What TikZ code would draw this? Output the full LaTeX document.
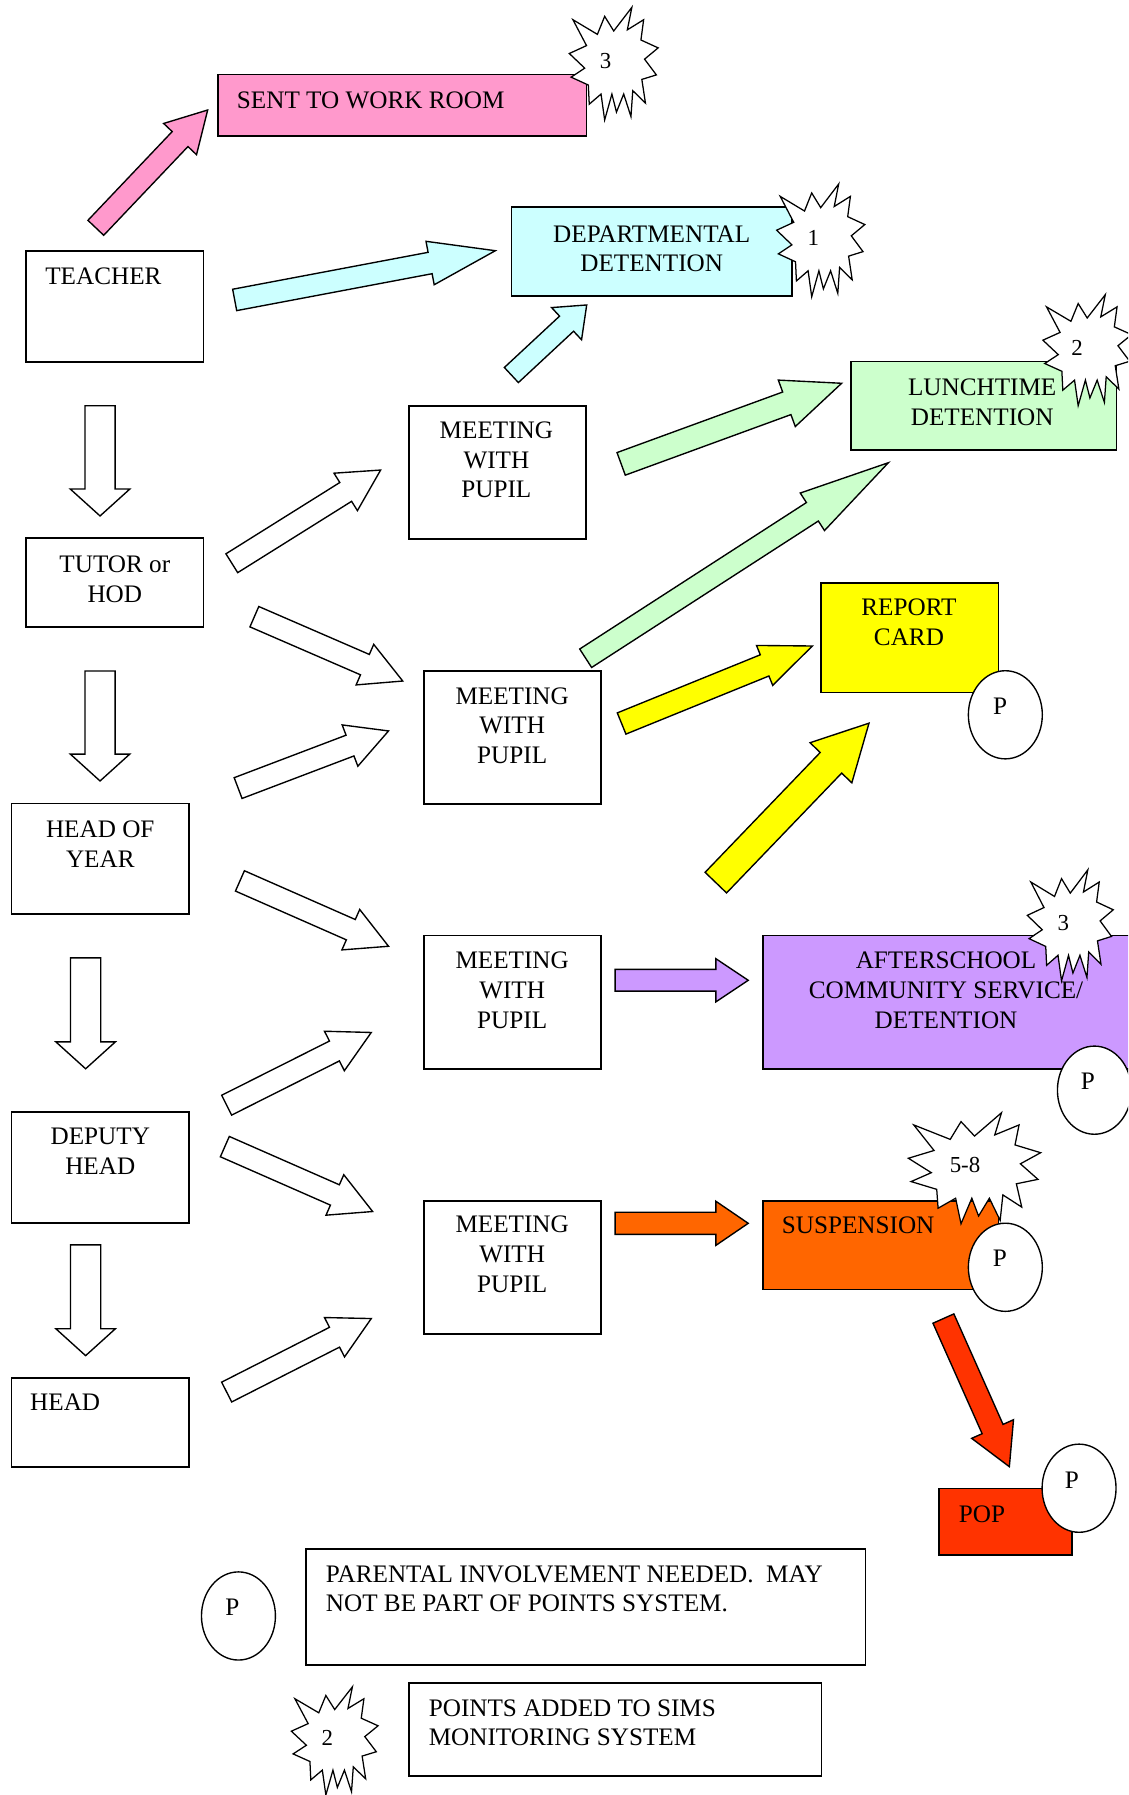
\documentclass[tikz,border=0pt]{standalone}
\usepackage{fontspec}
\setmainfont{Liberation Serif}
\usetikzlibrary{calc,shapes.geometric}
\definecolor{cpink}{HTML}{FF99CC}
\definecolor{ccyan}{HTML}{CCFFFF}
\definecolor{cgreen}{HTML}{CCFFCC}
\definecolor{cyellow}{HTML}{FFFF00}
\definecolor{cpurple}{HTML}{CC99FF}
\definecolor{corange}{HTML}{FF6600}
\definecolor{cred}{HTML}{FF3300}
\tikzset{
  box/.style={draw, line width=1.5pt, rectangle, inner sep=0pt, outer sep=0pt, anchor=north west},
  lbl/.style={inner sep=0pt, outer sep=0pt, font=\fontsize{22}{26}\selectfont},
  slbl/.style={inner sep=0pt, outer sep=0pt, font=\fontsize{20}{24}\selectfont},
  pcirc/.style={draw, fill=white, line width=1.2pt, ellipse, inner sep=0pt, minimum width=64.6pt, minimum height=77pt},
  arrowline/.style={draw, line width=1.2pt, line join=miter},
  burststyle/.style={draw, fill=white, line width=1.1pt, line join=miter},
}
\newcommand\blkarrow[6][white]{%
  \coordinate (bh) at ($(#3)!#6pt!(#2)$);
  \draw[arrowline, fill=#1] ($(#2)!#4pt!90:(#3)$) -- ($(bh)!#4pt!90:(#3)$) -- ($(bh)!#5pt!90:(#3)$) -- (#3) -- ($(bh)!#5pt!-90:(#3)$) -- ($(bh)!#4pt!-90:(#3)$) -- ($(#2)!#4pt!-90:(#3)$) -- cycle;
}
\newcommand\burst[4]{%
  \begin{scope}[shift={(#1,#2)}, x=#3pt, y=-#4pt]
    \draw[burststyle] (0.69,0) -- (0.64,0.2) -- (0.82,0.11) -- (0.79,0.29) -- (0.98,0.36) -- (0.83,0.46) -- (0.96,0.6) -- (0.8,0.64) -- (0.84,0.85) -- (0.7,0.74) -- (0.68,0.97) -- (0.6,0.77) -- (0.52,0.93) -- (0.47,0.77) -- (0.39,1.0) -- (0.35,0.77) -- (0.22,0.86) -- (0.21,0.69) -- (0.02,0.62) -- (0.17,0.54) -- (0,0.41) -- (0.19,0.34) -- (0.04,0.11) -- (0.31,0.24) -- (0.39,0.08) -- (0.49,0.21) -- cycle;
  \end{scope}}
\begin{document}
\begin{tikzpicture}[x=1pt,y=-1pt]
\clip (0,0) rectangle (985.35,1568);
\fill[white] (0,0) rectangle (985.35,1568);
% boxes
\node[box, fill=cpink, minimum width=321.8pt, minimum height=53.5pt] (sent) at (190.4,65.2) {};
\node[box, minimum width=155.2pt, minimum height=96.9pt] (teacher) at (22.6,219.3) {};
\node[box, fill=ccyan, minimum width=245.1pt, minimum height=77.5pt] (dept) at (446.8,180.9) {};
\node[box, fill=cgreen, minimum width=231.9pt, minimum height=77.5pt] (lunch) at (743.4,315.9) {};
\node[box, minimum width=155pt, minimum height=116.2pt] (meet1) at (357,354.4) {};
\node[box, minimum width=155.2pt, minimum height=77.8pt] (tutor) at (22.6,469.7) {};
\node[box, fill=cyellow, minimum width=155.3pt, minimum height=96pt] (report) at (717,509) {};
\node[box, minimum width=154.5pt, minimum height=116.3pt] (meet2) at (370.2,586) {};
\node[box, minimum width=155.3pt, minimum height=96.6pt] (hoy) at (10,702) {};
\node[box, minimum width=154.5pt, minimum height=116.3pt] (meet3) at (370.2,817.3) {};
\node[box, fill=cpurple, minimum width=333.8pt, minimum height=116.3pt] (after) at (666.2,817.3) {};
\node[box, minimum width=155.3pt, minimum height=96.9pt] (deputy) at (10,971.4) {};
\node[box, minimum width=154.5pt, minimum height=116.3pt] (meet4) at (370.2,1048.9) {};
\node[box, fill=corange, minimum width=206.1pt, minimum height=77.4pt] (susp) at (666.2,1048.9) {};
\node[box, minimum width=155.3pt, minimum height=77.5pt] (head) at (10,1203.7) {};
\node[box, fill=cred, minimum width=116.2pt, minimum height=57.8pt] (pop) at (820.1,1300.3) {};
\node[box, minimum width=488.9pt, minimum height=101.3pt] (legp) at (267.1,1353.1) {};
\node[box, minimum width=360.7pt, minimum height=81.2pt] (legs) at (357,1470.2) {};
% arrow end points
\coordinate (pks) at (83.7,199);   \coordinate (pke) at (181.4,96.1);
\coordinate (cbs) at (205,262);    \coordinate (cbe) at (432.7,219);
\coordinate (css) at (446.7,327.6);\coordinate (cse) at (512.5,266.4);
\coordinate (g1s) at (542.6,405.2);\coordinate (g1e) at (735.2,334.8);
\coordinate (g2s) at (511.6,575);  \coordinate (g2e) at (776,404.2);
\coordinate (y1s) at (543,632);    \coordinate (y1e) at (709.6,564.3);
\coordinate (y2s) at (625.3,771);  \coordinate (y2e) at (759.1,631.7);
\coordinate (pus) at (537.3,856.3);\coordinate (pue) at (653.6,856.3);
\coordinate (ors) at (537.3,1068.6);\coordinate (ore) at (653.6,1068.6);
\coordinate (rds) at (824.1,1151.8);\coordinate (rde) at (881.7,1281.2);
\coordinate (d1s) at (87.4,354.4); \coordinate (d1e) at (87.4,450.7);
\coordinate (d2s) at (87.4,586.1); \coordinate (d2e) at (87.4,682.2);
\coordinate (d3s) at (74.8,836.7); \coordinate (d3e) at (74.8,933.6);
\coordinate (d4s) at (74.8,1087.4);\coordinate (d4e) at (74.8,1184.2);
\coordinate (t1s) at (202.5,492);  \coordinate (t1e) at (332.5,410.6);
\coordinate (t2s) at (222.2,538.7);\coordinate (t2e) at (351.8,594.9);
\coordinate (t3s) at (208,688.4);  \coordinate (t3e) at (339.4,638.5);
\coordinate (t4s) at (209.6,769.5);\coordinate (t4e) at (339.4,826.6);
\coordinate (t5s) at (198,965.4);  \coordinate (t5e) at (324.3,901.9);
\coordinate (t6s) at (196.4,1001.6);\coordinate (t6e) at (325.5,1058.3);
\coordinate (t7s) at (198,1216);   \coordinate (t7e) at (324.3,1151.8);
% arrows
\blkarrow[cpink]{pks}{pke}{9.5}{19.8}{35}
\blkarrow[ccyan]{cbs}{cbe}{9.5}{19.3}{58}
\blkarrow[ccyan]{css}{cse}{9}{19.2}{24}
\blkarrow[cgreen]{g1s}{g1e}{10.5}{21.6}{51}
\blkarrow[cgreen]{g2s}{g2e}{9.6}{19.5}{79}
\blkarrow[cyellow]{y1s}{y1e}{10}{18.8}{45}
\blkarrow[cyellow]{y2s}{y2e}{13}{25.3}{48}
\blkarrow[cpurple]{pus}{pue}{9.5}{18.9}{28.3}
\blkarrow[corange]{ors}{ore}{9.7}{19.3}{28.3}
\blkarrow[cred]{rds}{rde}{10}{20}{36}
\blkarrow{d1s}{d1e}{13.2}{26}{23.5}
\blkarrow{d2s}{d2e}{13.2}{26}{23.5}
\blkarrow{d3s}{d3e}{13.2}{26}{23.5}
\blkarrow{d4s}{d4e}{13.2}{26}{23.5}
\blkarrow{t1s}{t1e}{9.7}{19.3}{36}
\blkarrow{t2s}{t2e}{9.7}{19.3}{36}
\blkarrow{t3s}{t3e}{9.7}{19.3}{36}
\blkarrow{t4s}{t4e}{9.7}{19.3}{36}
\blkarrow{t5s}{t5e}{9.7}{19.3}{36}
\blkarrow{t6s}{t6e}{9.7}{19.3}{36}
\blkarrow{t7s}{t7e}{9.7}{19.3}{36}
% starbursts
\burst{497.3}{6.4}{79.2}{98.4}
\burst{678.4}{160.7}{78.6}{98.5}
\burst{911}{257.4}{79}{97}
\burst{897.4}{759.8}{76.6}{97}
\burst{793.5}{972}{117.9}{97}
\burst{254.5}{1473.5}{77.3}{94.5}
% P ellipses
\node[pcirc] (p1) at (878.2,624.4) {};
\node[pcirc] (p2) at (956,952.3) {};
\node[pcirc] (p3) at (878.2,1107) {};
\node[pcirc] (p4) at (942.6,1300) {};
\node[pcirc] (p5) at (208.3,1411.6) {};
% texts
\node[lbl, anchor=north west] (sent-t) at (207,80) {SENT TO WORK ROOM};
\node[lbl, anchor=north west] (teacher-t) at (39.6,234) {TEACHER};
\node[lbl, anchor=north, align=center] (dept-t) at (569.3,197) {DEPARTMENTAL\\DETENTION};
\node[lbl, anchor=north, align=center] (lunch-t) at (858,331) {LUNCHTIME\\DETENTION};
\node[lbl, anchor=north, align=center] (meet1-t) at (433.6,368.4) {MEETING\\WITH\\PUPIL};
\node[lbl, anchor=north, align=center] (tutor-t) at (100.3,485.4) {TUTOR or\\HOD};
\node[lbl, anchor=north, align=center] (report-t) at (794,523) {REPORT\\CARD};
\node[lbl, anchor=north, align=center] (meet2-t) at (447.4,600.4) {MEETING\\WITH\\PUPIL};
\node[lbl, anchor=north, align=center] (hoy-t) at (87.6,717) {HEAD OF\\YEAR};
\node[lbl, anchor=north, align=center] (meet3-t) at (447.4,831.6) {MEETING\\WITH\\PUPIL};
\node[lbl, anchor=north, align=center] (after-t) at (826.4,831.6) {AFTERSCHOOL\\COMMUNITY SERVICE/\\DETENTION};
\node[lbl, anchor=north, align=center] (deputy-t) at (87.6,985.4) {DEPUTY\\HEAD};
\node[lbl, anchor=north, align=center] (meet4-t) at (447.4,1062.3) {MEETING\\WITH\\PUPIL};
\node[lbl, anchor=north west] (susp-t) at (683,1063.3) {SUSPENSION};
\node[lbl, anchor=north west] (head-t) at (26.4,1217.7) {HEAD};
\node[lbl, anchor=north west] (pop-t) at (837.7,1315.4) {POP};
\node[lbl, anchor=north west, align=left] (legp-t) at (284.7,1367.5) {PARENTAL INVOLVEMENT NEEDED.\ \ MAY\\NOT BE PART OF POINTS SYSTEM.};
\node[lbl, anchor=north west, align=left] (legs-t) at (374.6,1484.5) {POINTS ADDED TO SIMS\\MONITORING SYSTEM};
% P labels
\node[lbl] (p1-t) at (873.6,616.7) {P};
\node[lbl] (p2-t) at (950.2,944.6) {P};
\node[lbl] (p3-t) at (873.5,1099.3) {P};
\node[lbl] (p4-t) at (936.3,1292.9) {P};
\node[lbl] (p5-t) at (203,1404.2) {P};
% burst labels
\node[slbl] (b1-t) at (529,53) {3};
\node[slbl] (b2-t) at (710.5,208.2) {1};
\node[slbl] (b3-t) at (940.8,304.2) {2};
\node[slbl] (b4-t) at (928.8,806) {3};
\node[slbl] (b5-t) at (843,1017.7) {5-8};
\node[slbl] (b6-t) at (285.9,1518.5) {2};
\end{tikzpicture}
\end{document}
